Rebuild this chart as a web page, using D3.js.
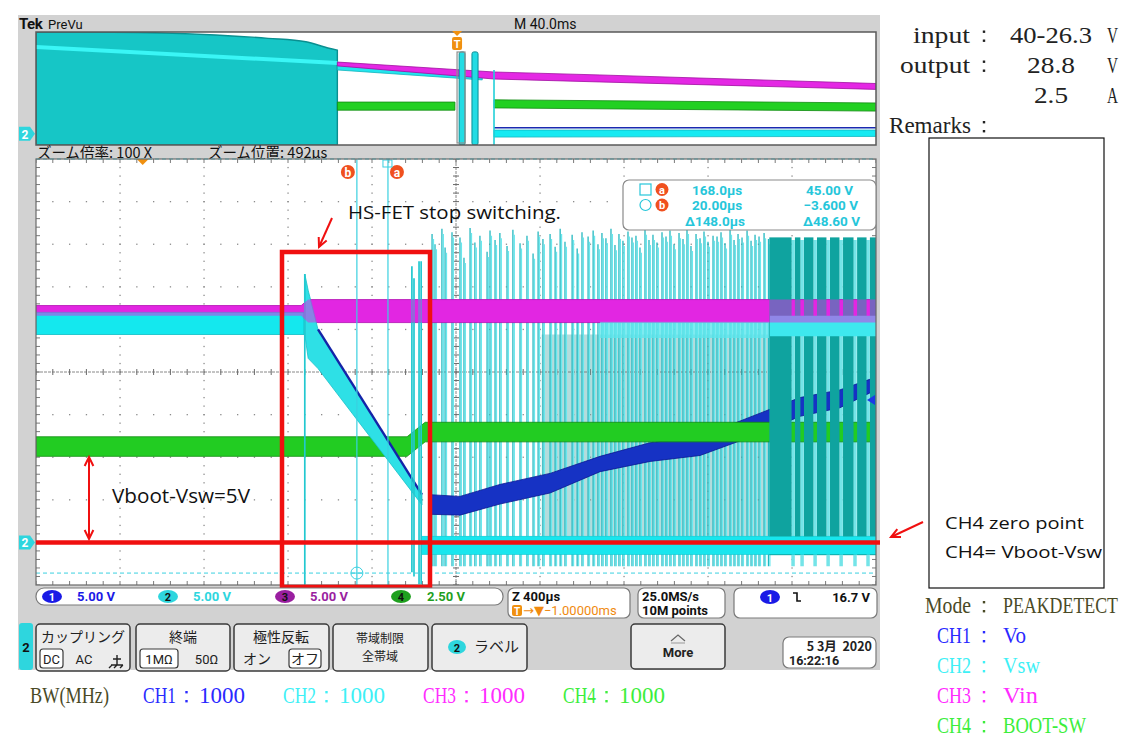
<!DOCTYPE html>
<html>
<head>
<meta charset="utf-8">
<script src="https://d3js.org/d3.v7.min.js"></script>
<style>
  body { margin: 0; background: #fff; }
</style>
</head>
<body>
<div id="graph"></div>
<script>

var W = 1134, H = 748;

// ---- channel setup (CH1..CH4) ----
var chVdiv = [5, 5, 5, 2.5];       // V/div
var chPos  = [-4, -4, -4, -4];     // ground position in divisions

// ---- zoom window: time in µs (trigger = 0), values in volts ----
var winT = [-1508, 2492];

var vinBand   = [[-1508, 26.6, 27.8], [-245, 26.6, 27.8], [-212, 25.8, 28.5], [2492, 25.8, 28.5]];
var vswBefore = [[-1508, 24.4, 27.0], [-232, 24.4, 27.0]];
var vswRamp   = [[-228, 24.4, 31.5], [-212, 21.6, 29.6], [-165, 20.4, 25.0], [330, 4.4, 5.6]];
var vswSpikes = [[-228, -4.9, 31.5], [282, -3.5, 32.4], [292, -4.0, 31.0], [316, -4.9, 33.0], [326, -4.9, 33.0]];
var vswLow    = [[330, -1.4, 0.7], [2492, -1.4, 0.7]];
var vswRingA  = [[1178, 24.0, 25.9], [1987, 24.0, 25.9]];
var vswRingB  = [[1987, 24.2, 26.6], [2492, 24.2, 26.6]];
var vswWash   = [[900, 0.7, 24.4], [1987, 0.7, 24.4]];
var pulseLow  = -2.8;
var pulseT  = [378, 392, 425, 440, 473, 511, 530, 559, 582, 606,
               640, 654, 678, 701, 735, 763, 797, 830, 859, 883,
               906, 940, 964, 988, 1011, 1045, 1069, 1092, 1121, 1145,
               1168, 1187, 1206, 1230, 1249, 1268, 1287, 1311, 1330, 1349,
               1368, 1392, 1411, 1430, 1449, 1473, 1492, 1511, 1530, 1554,
               1573, 1592, 1611, 1635, 1654, 1673, 1692, 1716, 1735, 1754,
               1773, 1797, 1816, 1835, 1854, 1878, 1897, 1916, 1935, 1959, 1980];
var pulsePk = [36.2, 35.0, 36.8, 34.6, 36.4, 35.8, 33.4, 36.9, 35.2, 36.0,
               34.1, 36.6, 35.5, 36.3, 34.8, 36.7, 35.1, 36.0, 33.9, 36.5,
               35.6, 36.2, 34.7, 36.8, 35.3, 36.1, 34.5, 36.4, 35.9, 36.6,
               35.0, 36.3, 35.7, 36.8, 34.9, 36.2, 35.4, 36.5, 35.8, 36.0,
               34.6, 36.7, 35.5, 36.1, 35.2, 36.4, 35.9, 36.6, 35.0, 36.3,
               35.6, 36.8, 34.8, 36.2, 35.7, 36.5, 35.3, 36.0, 35.9, 36.4,
               35.1, 36.7, 35.5, 36.2, 35.8, 36.6, 35.4, 36.1, 35.9, 36.3, 35.6];
var bursts  = [[1984, 2090], [2106, 2132], [2149, 2194], [2211, 2256], [2273, 2318],
               [2335, 2385], [2402, 2447], [2463, 2492]];
var burstV  = [-1.5, 35.8];
var stripeT = [2097, 2140, 2202, 2264, 2326, 2392, 2454];

var voRamp = [[-165, 25.0], [330, 5.6]];
var voBand = [[368, 3.3, 5.6], [511, 3.2, 5.4], [701, 4.5, 6.8], [940, 5.8, 8.1], [1178, 8.3, 10.1],
              [1416, 9.5, 11.7], [1654, 10.2, 12.4], [1964, 13.0, 15.4], [2130, 14.8, 17.0],
              [2320, 15.8, 17.9], [2492, 17.9, 19.4]];
var bootBand = [[-1508, 5.05, 6.2], [259, 5.05, 6.2], [345, 5.9, 7.05], [2492, 5.9, 7.05]];

var cursorName = ["a", "b"];
var cursorT = [168.0, 20.0];
var cursorV = [45.0, -3.6];
var expandT = -1000;      // ▼ expansion point
var trigLevel = 16.7;     // CH1 falling edge

// ---- PreVu overview: time in ms, volts ----
var ovT = [-200.5, 199.5];
var ovSwFill  = [[-200.5, 44.9], [-164, 44.9], [-115, 43.7], [-90, 42.2], [-72, 40.7], [-61, 37.8], [-57, 37.0]];
var ovSwStreak = [[-200.5, 38.4], [-57, 31.3]];
var ovVin  = [[-57, 30.0, 31.7], [17.6, 24.2, 27.3], [68, 22.9, 26.0], [199.5, 19.6, 22.2]];
var ovVswA = [[-57, 28.2, 31.3], [12, 23.8, 26.4]];
var ovBootA = [[-57, 5.2, 7.0], [-1, 5.2, 7.0]];
var ovBootB = [[17.6, 5.7, 7.5], [199.5, 5.0, 6.8]];
var ovVo   = [[17.6, 2.6], [199.5, 2.6]];
var ovVswB = [[17.6, -1.5, 1.6], [199.5, -1.2, 1.6]];
var ovPulses = [[1.0, 3.8], [7.1, 10.0]];
var ovPulseV = [-5, 36.2];
var ovLine = [17.6, -5, 28.2];
var ovZoomBox = [0, 3.8];

// ---- texts ----
var condLabel = ["input", "output", ""];
var condValue = ["40-26.3", "28.8", "2.5"];
var condUnit  = ["V", "V", "A"];
var chName  = ["CH1", "CH2", "CH3", "CH4"];
var chSig   = ["Vo", "Vsw", "Vin", "BOOT-SW"];
var chBW    = [1000, 1000, 1000, 1000];
var chColor = ["#2a2aff", "#3ef0f6", "#ff2cff", "#3cee3c"];
var scopeCh = ["#1a1ae6", "#2ed6de", "#9a1fa0", "#1fa01f"];

var svg = d3.select("#graph").append("svg")
  .attr("width", W).attr("height", H)
  .style("font-family", "Roboto, 'DejaVu Sans', sans-serif");

function txt(g, s, x, y, o) {
  var t = g.append("text").attr("x", x).attr("y", y).text(s);
  for (var k in o) t.attr(k, o[k]);
  return t;
}
function yOf(ys, v, ch) { return ys(v / chVdiv[ch - 1] + chPos[ch - 1]); }

// scope background
svg.append("rect").attr("x", 18).attr("y", 15).attr("width", 862).attr("height", 655).attr("fill", "#d2d2d2");

// header
txt(svg, "Tek", 19, 29, {"font-size": 15, "font-weight": 700, fill: "#111", "letter-spacing": -0.5});
txt(svg, "PreVu", 48, 29, {"font-size": 13, fill: "#111"});
txt(svg, "M 40.0ms", 514, 29, {"font-size": 14, fill: "#111"});

// ================= overview =================
var OL = 36, OR = 876, OT = 32, OB = 145;
var xo = d3.scaleLinear().domain(ovT).range([OL, OR]);
var yo = d3.scaleLinear().domain([-5, 5]).range([OB, OT]);
var ov = svg.append("g");
ov.append("rect").attr("x", OL).attr("y", OT).attr("width", OR - OL).attr("height", OB - OT).attr("fill", "#fff");
ov.append("clipPath").attr("id", "clipOv").append("rect")
  .attr("x", OL).attr("y", OT).attr("width", OR - OL).attr("height", OB - OT);
var ovc = ov.append("g").attr("clip-path", "url(#clipOv)");

function ovBand(data, ch, fill, stroke) {
  ovc.append("path")
    .attr("d", d3.area().x(function(d) { return xo(d[0]); })
      .y0(function(d) { return yOf(yo, d[1], ch); })
      .y1(function(d) { return yOf(yo, d[2], ch); })(data))
    .attr("fill", fill).attr("stroke", stroke).attr("stroke-width", 0.8);
}

ovc.append("path")
  .attr("d", d3.area().x(function(d) { return xo(d[0]); })
    .y0(yOf(yo, -5, 2)).y1(function(d) { return yOf(yo, d[1], 2); })
    .curve(d3.curveMonotoneX)(ovSwFill))
  .attr("fill", "#16c6c6").attr("stroke", "#0a8f90").attr("stroke-width", 1.4);
ovc.append("path")
  .attr("d", d3.line().x(function(d) { return xo(d[0]); }).y(function(d) { return yOf(yo, d[1], 2); })(ovSwStreak))
  .attr("stroke", "#3af6f6").attr("stroke-width", 4).attr("fill", "none");
ovBand(ovBootA, 4, "#22d022", "#128a12");
ovBand(ovBootB, 4, "#22d022", "#128a12");
ovBand(ovVswA, 2, "#22e6ee", "#14b4bc");
ovBand(ovVin, 3, "#e428e4", "#a010a0");
ovBand(ovVswB, 2, "#16eaf2", "#10b8c0");
ovc.append("path")
  .attr("d", d3.line().x(function(d) { return xo(d[0]); }).y(function(d) { return yOf(yo, d[1], 1); })(ovVo))
  .attr("stroke", "#1a2ab0").attr("stroke-width", 1.5);
ovc.selectAll("rect.op").data(ovPulses).join("rect").attr("class", "op")
  .attr("x", function(d) { return xo(d[0]); })
  .attr("width", function(d) { return xo(d[1]) - xo(d[0]); })
  .attr("y", yOf(yo, ovPulseV[1], 2))
  .attr("height", yOf(yo, ovPulseV[0], 2) - yOf(yo, ovPulseV[1], 2))
  .attr("rx", 2).attr("fill", "#22dce4").attr("stroke", "#0a8f96").attr("stroke-width", 1);
ovc.append("line").attr("x1", xo(ovLine[0])).attr("x2", xo(ovLine[0]))
  .attr("y1", yOf(yo, ovLine[1], 2)).attr("y2", yOf(yo, ovLine[2], 2))
  .attr("stroke", "#22d0d8").attr("stroke-width", 1.6);
ovc.append("rect").attr("x", xo(ovZoomBox[0])).attr("width", xo(ovZoomBox[1]) - xo(ovZoomBox[0]))
  .attr("y", 52).attr("height", OB - 54).attr("fill", "none").attr("stroke", "#909090").attr("stroke-width", 1.2);
ov.append("rect").attr("x", OL).attr("y", OT).attr("width", OR - OL).attr("height", OB - OT)
  .attr("fill", "none").attr("stroke", "#5a5a5a").attr("stroke-width", 1.5);
// trigger T
var tx0 = xo(0);
ov.append("path").attr("d", "M" + (tx0 - 5) + ",31 L" + (tx0 + 5) + ",31 L" + tx0 + ",36 Z").attr("fill", "#f09010");
ov.append("rect").attr("x", tx0 - 5).attr("y", 37).attr("width", 10).attr("height", 13).attr("rx", 2).attr("fill", "#f09010");
txt(ov, "T", tx0, 48, {"font-size": 11, "font-weight": 700, fill: "#fff", "text-anchor": "middle"});
// ch2 marker
function chMarker(g, y) {
  g.append("path").attr("d", "M19," + (y - 7) + " L30," + (y - 7) + " L35," + y + " L30," + (y + 7) + " L19," + (y + 7) + " Z")
    .attr("fill", "#2ed6de");
  txt(g, "2", 25, y + 5, {"font-size": 12, "font-weight": 700, fill: "#fff", "text-anchor": "middle"});
}
chMarker(svg, yOf(yo, 0, 2));

txt(svg, "ズーム倍率: 100 X", 37, 158, {"font-size": 14.5, fill: "#111", "font-family": "'Noto Sans CJK JP', sans-serif"});
txt(svg, "ズーム位置: 492µs", 208, 158, {"font-size": 14.5, fill: "#111", "font-family": "'Noto Sans CJK JP', sans-serif"});

// ================= main window =================
var PL = 36, PR = 876, PT = 159, PB = 585;
var x = d3.scaleLinear().domain(winT).range([PL, PR]);
var yd = d3.scaleLinear().domain([-5, 5]).range([PB, PT]);
var xd = d3.scaleLinear().domain([-5, 5]).range([PL, PR]);
function yv(v, ch) { return yOf(yd, v, ch); }

svg.append("rect").attr("x", PL).attr("y", PT).attr("width", PR - PL).attr("height", PB - PT).attr("fill", "#fff");
svg.append("clipPath").attr("id", "clipMain").append("rect")
  .attr("x", PL).attr("y", PT).attr("width", PR - PL).attr("height", PB - PT);
var plot = svg.append("g").attr("clip-path", "url(#clipMain)");

function band(data, ch, fill, stroke, op) {
  return plot.append("path")
    .attr("d", d3.area().x(function(d) { return x(d[0]); })
      .y0(function(d) { return yv(d[1], ch); })
      .y1(function(d) { return yv(d[2], ch); })(data))
    .attr("fill", fill).attr("stroke", stroke || "none").attr("stroke-width", 0.8)
    .attr("opacity", op == null ? 1 : op);
}

// persistence wash between pulses
band(vswWash, 2, "#b4dcdc", null);

// graticule
var minor = d3.range(-5, 5.001, 0.2);
var grid = plot.append("g").attr("fill", "#8c8c8c");
d3.range(-4, 5).forEach(function(k) {
  if (k === 0) return;
  minor.forEach(function(m) {
    grid.append("rect").attr("x", xd(k) - 0.6).attr("y", yd(m) - 0.6).attr("width", 1.3).attr("height", 1.3);
    grid.append("rect").attr("x", xd(m) - 0.6).attr("y", yd(k) - 0.6).attr("width", 1.3).attr("height", 1.3);
  });
});
grid.append("line").attr("x1", PL).attr("x2", PR).attr("y1", yd(0)).attr("y2", yd(0))
  .attr("stroke", "#6a6a6a").attr("stroke-width", 0.8).attr("stroke-dasharray", "3,1");
grid.append("line").attr("x1", xd(0)).attr("x2", xd(0)).attr("y1", PT).attr("y2", PB)
  .attr("stroke", "#6a6a6a").attr("stroke-width", 0.8).attr("stroke-dasharray", "3,1");
minor.forEach(function(m) {
  grid.append("line").attr("x1", xd(m)).attr("x2", xd(m)).attr("y1", yd(0) - 3).attr("y2", yd(0) + 3).attr("stroke", "#6a6a6a");
  grid.append("line").attr("x1", xd(0) - 3).attr("x2", xd(0) + 3).attr("y1", yd(m)).attr("y2", yd(m)).attr("stroke", "#6a6a6a");
  grid.append("line").attr("x1", xd(m)).attr("x2", xd(m)).attr("y1", PT).attr("y2", PT + 4).attr("stroke", "#7a7a7a");
  grid.append("line").attr("x1", xd(m)).attr("x2", xd(m)).attr("y1", PB - 4).attr("y2", PB).attr("stroke", "#7a7a7a");
  grid.append("line").attr("x1", PL).attr("x2", PL + 4).attr("y1", yd(m)).attr("y2", yd(m)).attr("stroke", "#7a7a7a");
  grid.append("line").attr("x1", PR - 4).attr("x2", PR).attr("y1", yd(m)).attr("y2", yd(m)).attr("stroke", "#7a7a7a");
});

// Vsw switching pulses
var pg = plot.append("g");
pg.selectAll("line.pd").data(pulseT).join("line").attr("class", "pd")
  .attr("x1", function(d) { return x(d); }).attr("x2", function(d) { return x(d); })
  .attr("y1", yv(pulseLow, 2)).attr("y2", function(d, i) { return yv(pulsePk[i], 2); })
  .attr("stroke", "#22b8c0").attr("stroke-width", 1.3);
pg.selectAll("line.pl").data(pulseT).join("line").attr("class", "pl")
  .attr("x1", function(d) { return x(d) + 1.4; }).attr("x2", function(d) { return x(d) + 1.4; })
  .attr("y1", yv(pulseLow, 2)).attr("y2", function(d, i) { return yv(pulsePk[i] - 0.6, 2); })
  .attr("stroke", "#6ae8ee").attr("stroke-width", 1.3);
pg.selectAll("line.st").data(stripeT).join("line").attr("class", "st")
  .attr("x1", function(d) { return x(d); }).attr("x2", function(d) { return x(d); })
  .attr("y1", yv(pulseLow, 2)).attr("y2", yv(35.5, 2))
  .attr("stroke", "#74e4e8").attr("stroke-width", 3.5);

band(vswLow, 2, "#18e6ee", "#10c0c8");
band(voBand, 1, "#1632c4", "#0a1890");
band(bootBand, 4, "#22cc22", "#128c12");
band(vinBand, 3, "#e226e2", "#a412a4");
band(vswRingA, 2, "#5ee6ec", null, 0.8);
band(vswBefore, 2, "#14e8ee", "#0cbcc4");
band(vswRamp, 2, "#2ee0e6", "#18c0c8");
plot.append("path")
  .attr("d", d3.line().x(function(d) { return x(d[0]); }).y(function(d) { return yv(d[1], 1); })(voRamp))
  .attr("stroke", "#1424a8").attr("stroke-width", 2.4).attr("fill", "none");
plot.selectAll("line.sp").data(vswSpikes).join("line").attr("class", "sp")
  .attr("x1", function(d) { return x(d[0]); }).attr("x2", function(d) { return x(d[0]); })
  .attr("y1", function(d) { return yv(d[1], 2); }).attr("y2", function(d) { return yv(d[2], 2); })
  .attr("stroke", "#22c8d0").attr("stroke-width", 1.7);

// dense switching burst
plot.selectAll("rect.bu").data(bursts).join("rect").attr("class", "bu")
  .attr("x", function(d) { return x(d[0]); })
  .attr("width", function(d) { return x(d[1]) - x(d[0]); })
  .attr("y", yv(burstV[1], 2)).attr("height", yv(burstV[0], 2) - yv(burstV[1], 2))
  .attr("fill", "#0fa39f");
band(vswLow, 2, "#18e6ee", null);
band(vswRingB, 2, "#3ee8ee", null);
band(vinBand, 3, "#e226e2", null, 0.5);

// cursors
var cg = svg.append("g");
cursorT.forEach(function(t, i) {
  cg.append("line").attr("x1", x(t)).attr("x2", x(t)).attr("y1", PT).attr("y2", PB)
    .attr("stroke", "#3ad0e0").attr("stroke-width", 1.2);
  cg.append("line").attr("x1", PL).attr("x2", PR).attr("y1", yv(cursorV[i], 2)).attr("y2", yv(cursorV[i], 2))
    .attr("stroke", "#3ad0e0").attr("stroke-width", 1).attr("stroke-dasharray", "4,3");
  var lx = x(t) + (i === 0 ? 9 : -9);
  cg.append("circle").attr("cx", lx).attr("cy", 172).attr("r", 7).attr("fill", "#f0501e");
  txt(cg, cursorName[i], lx, 176.5, {"font-size": 12, "font-weight": 700, fill: "#fff", "text-anchor": "middle"});
});
cg.append("rect").attr("x", x(cursorT[0]) - 5).attr("y", yv(cursorV[0], 2) + 1).attr("width", 9).attr("height", 7)
  .attr("fill", "none").attr("stroke", "#3ad0e0");
cg.append("circle").attr("cx", x(cursorT[1])).attr("cy", yv(cursorV[1], 2)).attr("r", 6)
  .attr("fill", "none").attr("stroke", "#3ad0e0");
cg.append("line").attr("x1", x(cursorT[1]) - 6).attr("x2", x(cursorT[1]) + 6)
  .attr("y1", yv(cursorV[1], 2)).attr("y2", yv(cursorV[1], 2)).attr("stroke", "#3ad0e0");

// expansion marker and trigger level
var ex = x(expandT);
svg.append("path").attr("d", "M" + (ex - 6) + "," + PT + " L" + (ex + 6) + "," + PT + " L" + ex + "," + (PT + 6) + " Z").attr("fill", "#f09010");
var tly = yv(trigLevel, 1);
svg.append("path").attr("d", "M" + (PR - 9) + "," + tly + " L" + (PR - 1) + "," + (tly - 5) + " L" + (PR - 1) + "," + (tly + 5) + " Z").attr("fill", "#1a3ae6");
svg.append("rect").attr("x", PL).attr("y", PT).attr("width", PR - PL).attr("height", PB - PT)
  .attr("fill", "none").attr("stroke", "#6a6a6a").attr("stroke-width", 1.2);
chMarker(svg, yv(0, 2));

// cursor readout
var rb = svg.append("g").attr("font-size", 13.5).attr("font-weight", 700).attr("fill", "#26c6da");
rb.append("rect").attr("x", 623).attr("y", 180).attr("width", 253).attr("height", 50).attr("rx", 6)
  .attr("fill", "#fff").attr("stroke", "#8a8a8a").attr("stroke-width", 1.2);
rb.append("rect").attr("x", 640).attr("y", 184).attr("width", 11).attr("height", 11).attr("fill", "none").attr("stroke", "#26c6da").attr("stroke-width", 1.2);
rb.append("circle").attr("cx", 645.5).attr("cy", 205).attr("r", 5.5).attr("fill", "none").attr("stroke", "#26c6da").attr("stroke-width", 1.2);
[189.5, 205].forEach(function(cy, i) {
  rb.append("circle").attr("cx", 662).attr("cy", cy).attr("r", 6.5).attr("fill", "#f0501e");
  txt(rb, cursorName[i], 662, cy + 4, {"font-size": 11, fill: "#fff", "text-anchor": "middle"});
});
function fmtV(v) { return (v < 0 ? "\u2212" : "") + (Math.abs(v) < 10 ? Math.abs(v).toFixed(3) : Math.abs(v).toFixed(2)) + " V"; }
txt(rb, cursorT[0].toFixed(1) + "µs", 692, 195, {});
txt(rb, fmtV(cursorV[0]), 853, 195, {"text-anchor": "end"});
txt(rb, cursorT[1].toFixed(2) + "µs", 692, 210, {});
txt(rb, fmtV(cursorV[1]), 858, 210, {"text-anchor": "end"});
txt(rb, "\u0394" + (cursorT[0] - cursorT[1]).toFixed(1) + "µs", 685, 226, {});
txt(rb, "\u0394" + (cursorV[0] - cursorV[1]).toFixed(2) + " V", 860, 226, {"text-anchor": "end"});

// ================= annotations =================
var red = "#f01010";
var an = svg.append("g");
an.append("rect").attr("x", 282).attr("y", 252).attr("width", 148).attr("height", 335)
  .attr("fill", "none").attr("stroke", red).attr("stroke-width", 4.5);
an.append("line").attr("x1", PL).attr("x2", 880).attr("y1", yv(0, 4)).attr("y2", yv(0, 4))
  .attr("stroke", red).attr("stroke-width", 4.5);
function arrowHead(x1, y1, x2, y2) {
  var a = Math.atan2(y2 - y1, x2 - x1), L = 10, s = 0.45;
  return "M" + (x2 - L * Math.cos(a - s)) + "," + (y2 - L * Math.sin(a - s)) + " L" + x2 + "," + y2 +
    " L" + (x2 - L * Math.cos(a + s)) + "," + (y2 - L * Math.sin(a + s));
}
function arrow(x1, y1, x2, y2, both) {
  an.append("line").attr("x1", x1).attr("y1", y1).attr("x2", x2).attr("y2", y2).attr("stroke", red).attr("stroke-width", 2);
  an.append("path").attr("d", arrowHead(x1, y1, x2, y2)).attr("fill", "none").attr("stroke", red).attr("stroke-width", 2);
  if (both) an.append("path").attr("d", arrowHead(x2, y2, x1, y1)).attr("fill", "none").attr("stroke", red).attr("stroke-width", 2);
}
arrow(332, 218, 319, 247);
arrow(89, 457, 89, 539, true);
arrow(923, 522, 891, 537);
var sans = "'Open Sans', 'Noto Sans', sans-serif";
txt(an, "HS-FET stop switching.", 348, 219, {"font-size": 19, fill: "#111", "font-family": sans, textLength: 213, lengthAdjust: "spacingAndGlyphs"});
txt(an, "Vboot-Vsw=5V", 112, 503, {"font-size": 20, fill: "#111", "font-family": sans, textLength: 138, lengthAdjust: "spacingAndGlyphs"});
an.append("rect").attr("x", 929).attr("y", 138).attr("width", 175).attr("height", 450)
  .attr("fill", "none").attr("stroke", "#111").attr("stroke-width", 1.2);
txt(an, "CH4 zero point", 945, 529, {"font-size": 17, fill: "#111", "font-family": sans, textLength: 139, lengthAdjust: "spacingAndGlyphs"});
txt(an, "CH4= Vboot-Vsw", 945, 558, {"font-size": 17, fill: "#111", "font-family": sans, textLength: 157, lengthAdjust: "spacingAndGlyphs"});

// ================= status row =================
var st = svg.append("g").attr("font-size", 13).attr("font-weight", 700);
st.append("rect").attr("x", 36).attr("y", 588).attr("width", 467).attr("height", 17).attr("rx", 8)
  .attr("fill", "#fff").attr("stroke", "#7a7a7a").attr("stroke-width", 1.2);
var badgeX = [52, 168, 285, 401], valX = [77, 193, 310, 427];
chVdiv.forEach(function(v, i) {
  st.append("ellipse").attr("cx", badgeX[i]).attr("cy", 596.5).attr("rx", 10).attr("ry", 6.5).attr("fill", scopeCh[i]);
  txt(st, String(i + 1), badgeX[i], 601, {"font-size": 11, fill: i === 0 ? "#fff" : "#111", "text-anchor": "middle"});
  txt(st, v.toFixed(2) + " V", valX[i], 601, {fill: scopeCh[i]});
});
function box(g, x0, y0, w, h, r) {
  return g.append("rect").attr("x", x0).attr("y", y0).attr("width", w).attr("height", h).attr("rx", r)
    .attr("fill", "#fff").attr("stroke", "#7a7a7a").attr("stroke-width", 1.2);
}
box(st, 508, 588, 122, 30, 6);
txt(st, "Z 400µs", 512, 601, {fill: "#111"});
st.append("rect").attr("x", 512).attr("y", 605).attr("width", 10).attr("height", 11).attr("rx", 2).attr("fill", "#f09010");
txt(st, "T", 517, 614.5, {"font-size": 10, fill: "#fff", "text-anchor": "middle"});
txt(st, "\u2192\u25BC\u22121.00000ms", 523, 615, {fill: "#f08a10", "font-weight": 400, "font-size": 13});
box(st, 638, 588, 87, 30, 6);
txt(st, "25.0MS/s", 642, 601, {fill: "#111"});
txt(st, "10M points", 642, 615, {fill: "#111"});
box(st, 734, 588, 143, 30, 6);
st.append("ellipse").attr("cx", 770).attr("cy", 597).attr("rx", 10).attr("ry", 7).attr("fill", "#1a1ae6");
txt(st, "1", 770, 601.5, {"font-size": 11, fill: "#fff", "text-anchor": "middle"});
st.append("path").attr("d", "M793,593 L797,593 L797,601 L801,601").attr("fill", "none").attr("stroke", "#111").attr("stroke-width", 1.6);
txt(st, trigLevel.toFixed(1) + " V", 870, 602, {fill: "#111", "text-anchor": "end"});

// ================= menu row =================
var jp = "'Noto Sans CJK JP', sans-serif";
var mn = svg.append("g").attr("font-family", jp).attr("fill", "#222");
mn.append("rect").attr("x", 19).attr("y", 623).attr("width", 14).attr("height", 47).attr("rx", 3).attr("fill", "#2ed6de");
txt(mn, "2", 26, 652, {"font-size": 13, "font-weight": 700, "text-anchor": "middle", fill: "#111", "font-family": "Roboto"});
function button(x0, x1, y0, y1) {
  mn.append("rect").attr("x", x0).attr("y", y0).attr("width", x1 - x0).attr("height", y1 - y0).attr("rx", 4)
    .attr("fill", "#ececec").attr("stroke", "#3a3a3a").attr("stroke-width", 1.5);
}
function inner(x0, x1) {
  mn.append("rect").attr("x", x0).attr("y", 649).attr("width", x1 - x0).attr("height", 19).attr("rx", 3)
    .attr("fill", "#fff").attr("stroke", "#3a3a3a").attr("stroke-width", 1.2);
}
button(36, 130, 624, 671); button(136, 230, 624, 671); button(234, 329, 624, 671);
button(333, 428, 624, 671); button(432, 527, 624, 671); button(631, 725, 624, 669);
txt(mn, "カップリング", 83, 642, {"font-size": 14, "text-anchor": "middle"});
inner(40, 63);
txt(mn, "DC", 51.5, 664, {"font-size": 13, "text-anchor": "middle", "font-family": "Roboto"});
txt(mn, "AC", 84, 664, {"font-size": 13, "text-anchor": "middle", "font-family": "Roboto"});
mn.append("path").attr("d", "M111,665 L123,665 M117,655 L117,665 M112,665 L109,668 M117,665 L114,668 M123,665 L120,668 M113,659 L121,659")
  .attr("fill", "none").attr("stroke", "#222").attr("stroke-width", 1.4);
txt(mn, "終端", 183, 642, {"font-size": 14, "text-anchor": "middle"});
inner(140, 178);
txt(mn, "1MΩ", 159, 664, {"font-size": 13, "text-anchor": "middle", "font-family": "Roboto"});
txt(mn, "50Ω", 206.5, 664, {"font-size": 13, "text-anchor": "middle", "font-family": "Roboto"});
txt(mn, "極性反転", 281, 642, {"font-size": 14, "text-anchor": "middle"});
txt(mn, "オン", 257, 664, {"font-size": 14, "text-anchor": "middle"});
inner(289, 321);
txt(mn, "オフ", 305, 664, {"font-size": 14, "text-anchor": "middle"});
txt(mn, "帯域制限", 380, 643, {"font-size": 12, "text-anchor": "middle"});
txt(mn, "全帯域", 380, 661, {"font-size": 12, "text-anchor": "middle"});
mn.append("ellipse").attr("cx", 457).attr("cy", 647).attr("rx", 9).attr("ry", 7).attr("fill", "#2ed6de");
txt(mn, "2", 457, 651.5, {"font-size": 11, "font-weight": 700, "text-anchor": "middle", fill: "#111", "font-family": "Roboto"});
txt(mn, "ラベル", 474, 652, {"font-size": 15});
mn.append("path").attr("d", "M671,641 L678,635 L685,641").attr("fill", "none").attr("stroke", "#666").attr("stroke-width", 1.2);
mn.append("line").attr("x1", 671).attr("x2", 685).attr("y1", 643).attr("y2", 643).attr("stroke", "#999");
txt(mn, "More", 678, 657, {"font-size": 13, "font-weight": 700, "text-anchor": "middle", "font-family": "Roboto"});
mn.append("rect").attr("x", 783).attr("y", 637).attr("width", 93).attr("height", 31).attr("rx", 6)
  .attr("fill", "#fff").attr("stroke", "#7a7a7a").attr("stroke-width", 1.2);
txt(mn, "5 3月  2020", 872, 651, {"font-size": 12.5, "font-weight": 700, "text-anchor": "end"}).attr("xml:space", "preserve");
txt(mn, "16:22:16", 789, 665, {"font-size": 12.5, "font-weight": 700, "font-family": "Roboto"});

// ================= side and bottom texts =================
var serif = "'Liberation Serif', 'DejaVu Serif', serif";
var tg = svg.append("g").attr("font-family", serif);
function fit(s, x0, x1, y, size, color) {
  return txt(tg, s, x0, y, {"font-size": size, fill: color, textLength: x1 - x0, lengthAdjust: "spacingAndGlyphs"});
}
function colon(cx, y, color) {
  tg.append("rect").attr("x", cx - 1.2).attr("y", y - 12).attr("width", 2.4).attr("height", 2.4).attr("fill", color);
  tg.append("rect").attr("x", cx - 1.2).attr("y", y - 3).attr("width", 2.4).attr("height", 2.4).attr("fill", color);
}
var condY = [42.5, 72.5, 103];
var condLX = [[913, 970], [900, 970]];
var condVX = [[1010, 1092], [1027, 1075], [1034, 1068]];
condValue.forEach(function(v, i) {
  if (condLabel[i]) { fit(condLabel[i], condLX[i][0], condLX[i][1], condY[i], 23, "#222"); colon(984, condY[i], "#222"); }
  fit(v, condVX[i][0], condVX[i][1], condY[i], 23, "#222");
  fit(condUnit[i], 1107, 1118, condY[i], 23, "#222");
});
fit("Remarks", 889, 971, 133, 23, "#222");
colon(984, 133, "#222");

var olive = "#4a4a26";
fit("Mode", 925, 971, 613, 23, olive);
colon(984, 613, olive);
fit("PEAKDETECT", 1003, 1118, 613, 19, olive).attr("transform", "translate(0,613) scale(1,1.2) translate(0,-613)");
var sigX1 = [1026, 1040, 1038, 1086];
chName.forEach(function(c, i) {
  var y = 643 + i * 30;
  fit(c, 937, 971, y, 23, chColor[i]);
  colon(984, y, chColor[i]);
  fit(chSig[i], 1003, sigX1[i], y, 23, chColor[i]);
});
fit("BW(MHz)", 30, 109, 703, 24, olive);
chName.forEach(function(c, i) {
  var dx = i * 140;
  fit(c, 143 + dx, 176 + dx, 703, 24, chColor[i]);
  colon(186.5 + dx, 703, chColor[i]);
  fit(String(chBW[i]), 199 + dx, 245 + dx, 703, 24, chColor[i]);
});

</script>
</body>
</html>
